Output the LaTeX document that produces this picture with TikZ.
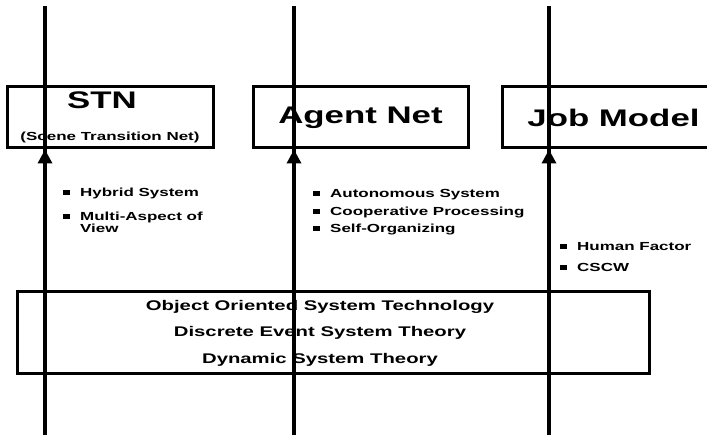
\documentclass[tikz,border=0pt]{standalone}
\usepackage{fontspec}
\setmainfont{Liberation Sans}[FakeStretch=1.45]
\usetikzlibrary{arrows.meta,positioning}
\newcommand{\bul}{\rule[1.5pt]{7pt}{5pt}\hspace{10pt}}

\begin{document}
\begin{tikzpicture}[x=1pt,y=-1pt,
      >={Triangle[width=14pt,length=14pt]},
      model/.style={rectangle,draw,line width=3pt,inner sep=0pt,font=\fontsize{24}{28}\selectfont\bfseries},
      axisline/.style={line width=3.4pt},
      item/.style={anchor=west,inner sep=0pt,align=left,font=\fontsize{11.7}{10}\selectfont\bfseries},
      theory/.style={align=center,inner sep=0pt,font=\fontsize{14}{26.5}\selectfont\bfseries}]

      \clip (0,0) rectangle (707,438);

      % Define nodes
      \node[model,minimum width=206,minimum height=61] (stn) at (110,117.5) {};
      \node[font=\fontsize{24}{28}\selectfont\bfseries,inner sep=0pt] (stntitle) at (102,100) {STN};
      \node[font=\fontsize{11.7}{14}\selectfont\bfseries,inner sep=0pt] (stnsub) at (110,137) {(Scene Transition Net)};
      \node[model,minimum width=215,minimum height=61] (agent) at (360.5,117.5) {Agent Net};
      \node[model,minimum width=223,minimum height=61] (job) at (613.5,117.5) {Job Model};

      \node[item] (hybrid) at (63,193) {\bul Hybrid System};
      \node[item] (aspect) at (63,222) {\bul Multi-Aspect of\\\hspace*{17pt}View};
      \node[item] (auto) at (313,195) {\bul Autonomous System};
      \node[item] (coop) at (313,213) {\bul Cooperative Processing};
      \node[item] (self) at (313,230) {\bul Self-Organizing};
      \node[item] (human) at (560,247) {\bul Human Factor};
      \node[item] (cscw) at (560,267) {\bul CSCW};

      \node[model,minimum width=632,minimum height=81] (base) at (333,332.5) {};
      \node[theory] (theories) at (320,333) {Object Oriented System Technology\\Discrete Event System Theory\\Dynamic System Theory};

      \coordinate (top1) at (45,6);
      \coordinate (bot1) at (45,435);
      \coordinate (top2) at (294,6);
      \coordinate (bot2) at (294,435);
      \coordinate (top3) at (549,6);
      \coordinate (bot3) at (549,435);

      % Draw paths
      \draw[axisline] (bot1) -- (top1);
      \draw[axisline] (bot2) -- (top2);
      \draw[axisline] (bot3) -- (top3);
      \draw[axisline,->] (bot1) -- (bot1 |- stn.south);
      \draw[axisline,->] (bot2) -- (bot2 |- agent.south);
      \draw[axisline,->] (bot3) -- (bot3 |- job.south);

\end{tikzpicture}
\end{document}
